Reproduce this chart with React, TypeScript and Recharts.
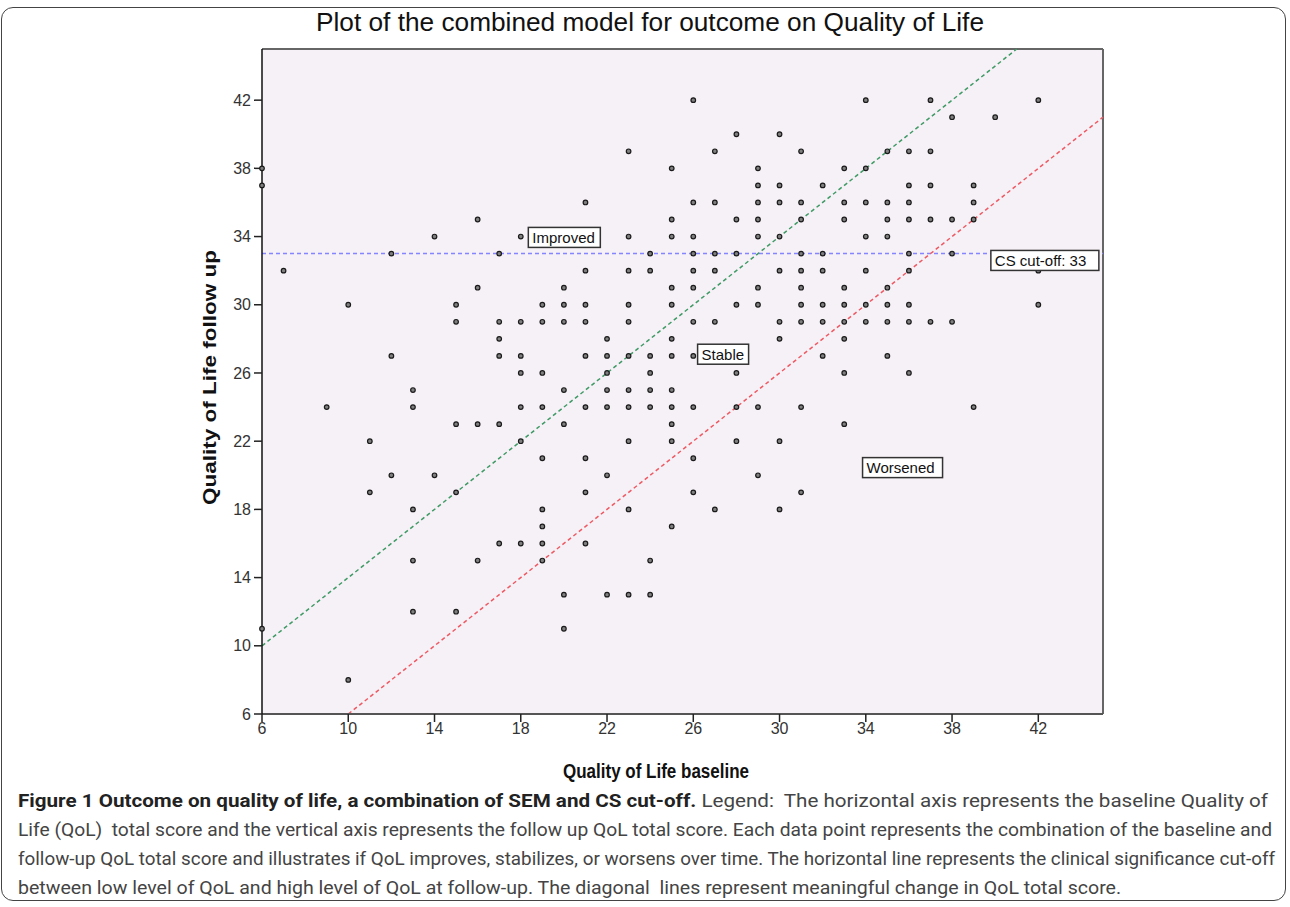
import React from 'react'
import {
  ScatterChart,
  Scatter,
  XAxis,
  YAxis,
  CartesianGrid,
  ReferenceLine,
  ReferenceDot,
} from 'recharts'

const AXIS_MIN = 6
const AXIS_MAX = 45
const xTicks = [6, 10, 14, 18, 22, 26, 30, 34, 38, 42]
const yTicks = [6, 10, 14, 18, 22, 26, 30, 34, 38, 42]
const csCutOff = 33
const semChange = 4

// follow-up QoL score, and the baseline scores seen at that follow-up level
const followUpLevels = [42, 41, 40, 39, 38, 37, 36, 35, 34, 33, 32, 31, 30, 29, 28, 27, 26, 25, 24, 23, 22, 21, 20, 19, 18, 17, 16, 15, 13, 12, 11, 8]
const baselineAtLevel = [
  [26, 34, 37, 42],
  [38, 40],
  [28, 30],
  [23, 27, 31, 35, 36, 37],
  [6, 25, 29, 33, 34],
  [6, 29, 30, 32, 36, 37, 39],
  [21, 26, 27, 29, 30, 31, 33, 34, 35, 36, 39],
  [16, 25, 28, 29, 31, 33, 35, 36, 37, 38, 39],
  [14, 18, 23, 25, 26, 29, 30, 34, 35],
  [12, 17, 24, 26, 27, 28, 31, 32, 36, 38],
  [7, 21, 23, 24, 26, 27, 30, 31, 32, 34, 36, 42],
  [16, 20, 25, 26, 29, 31, 33, 35],
  [10, 15, 19, 20, 21, 23, 25, 28, 29, 31, 32, 33, 34, 35, 36, 42],
  [15, 17, 18, 19, 20, 21, 23, 26, 27, 30, 31, 32, 33, 34, 35, 36, 37, 38],
  [17, 22, 25, 30, 33],
  [12, 17, 18, 21, 22, 23, 24, 25, 26, 32, 35],
  [18, 19, 22, 24, 28, 33, 36],
  [13, 20, 22, 23, 24, 25],
  [9, 13, 18, 19, 21, 22, 23, 24, 25, 26, 28, 29, 31, 39],
  [15, 16, 17, 20, 25, 33],
  [11, 18, 23, 25, 28, 30],
  [19, 21, 26],
  [12, 14, 22, 29],
  [11, 15, 21, 26, 31],
  [13, 19, 23, 27, 30],
  [19, 25],
  [17, 18, 19, 21],
  [13, 16, 19, 24],
  [20, 22, 23, 24],
  [13, 15],
  [6, 20],
  [10],
]

const regionNames = ['Improved', 'Stable', 'Worsened', `CS cut-off: ${csCutOff}`]
const regionX = [18.35, 26.2, 33.85, 39.8]
const regionY = [33.95, 27.1, 20.45, 32.6]
const regionBoxWidth = [72, 51, 80, 108]

const captionBold = 'Figure 1 Outcome on quality of life, a combination of SEM and CS cut-off.'
const captionLines = [
  ' Legend:  The horizontal axis represents the baseline Quality of',
  'Life (QoL)  total score and the vertical axis represents the follow up QoL total score. Each data point represents the combination of the baseline and',
  'follow-up QoL total score and illustrates if QoL improves, stabilizes, or worsens over time. The horizontal line represents the clinical significance cut-off',
  'between low level of QoL and high level of QoL at follow-up. The diagonal  lines represent meaningful change in QoL total score.',
]
// widths of the full lines; the last line keeps its natural width
const captionWidths = [1250, 1254, 1257]

const points = followUpLevels.flatMap((fu, i) =>
  baselineAtLevel[i].map((b) => ({ baseline: b, followUp: fu }))
)

const ARIAL = "'Liberation Sans', Arial, sans-serif"
const CAPTION = 'Roboto'
const CAPTION_SIZE = 19

const measure = (text: string, bold = false) => {
  const ctx = document.createElement('canvas').getContext('2d')
  if (!ctx) return text.length * 9
  ctx.font = `${bold ? 'bold ' : ''}${CAPTION_SIZE}px ${CAPTION}`
  return ctx.measureText(text).width
}

const dot = (props: any) => (
  <circle cx={props.cx} cy={props.cy} r={2.3} fill="#808080" stroke="#1a1a1a" strokeWidth={1.2} />
)

const boxLabel = (text: string, w: number) => (props: any) => {
  const { cx, cy } = props
  return (
    <g>
      <rect x={cx} y={cy - 10} width={w} height={20} fill="#fff" stroke="#333" strokeWidth={1.5} />
      <text x={cx + 4} y={cy + 5.5} fontSize={15} fontFamily={ARIAL} fill="#111">
        {text}
      </text>
    </g>
  )
}

const Caption: React.FC = () => {
  const sx = React.useMemo(() => {
    const ratios = captionWidths.map((w, i) => {
      const natural = i === 0 ? measure(captionBold, true) + measure(captionLines[0]) : measure(captionLines[i])
      return w / natural
    })
    return ratios.reduce((a, b) => a + b, 0) / ratios.length
  }, [])

  return (
    <g>
      {captionLines.map((line, i) => {
        const full = i < captionWidths.length
        return (
          <text
            key={i}
            x={full ? 18 : 0}
            y={807 + i * 29}
            transform={full ? undefined : `translate(18,0) scale(${sx},1)`}
            fontSize={CAPTION_SIZE}
            fontFamily={CAPTION}
            fill="#444"
            textLength={full ? captionWidths[i] : undefined}
            lengthAdjust={full ? 'spacingAndGlyphs' : undefined}
            style={{ whiteSpace: 'pre' }}
          >
            {i === 0 && (
              <tspan fontWeight="bold" fill="#222">
                {captionBold}
              </tspan>
            )}
            <tspan>{line}</tspan>
          </text>
        )
      })}
    </g>
  )
}

const App: React.FC = () => {
  return (
    <div style={{ position: 'absolute', left: 0, top: 0, width: 1290, height: 907, background: '#fff' }}>
      <div
        style={{
          position: 'absolute',
          left: 1,
          top: 7,
          width: 1285,
          height: 894,
          border: '1.5px solid #444',
          borderRadius: 12,
          boxSizing: 'border-box',
        }}
      />
      <div style={{ position: 'absolute', left: 0, top: 0 }}>
        <ScatterChart width={1290} height={760} margin={{ top: 49, right: 187, bottom: 16, left: 202 }}>
          <CartesianGrid horizontal={false} vertical={false} fill="#f6f1f6" />
          <XAxis
            type="number"
            dataKey="baseline"
            domain={[AXIS_MIN, AXIS_MAX]}
            ticks={xTicks}
            interval={0}
            height={30}
            tickSize={8}
            tickMargin={1}
            axisLine={{ stroke: '#555', strokeWidth: 2 }}
            tickLine={{ stroke: '#222', strokeWidth: 1.5 }}
            tick={{ fill: '#333', fontSize: 16, fontFamily: ARIAL }}
          />
          <YAxis
            type="number"
            dataKey="followUp"
            domain={[AXIS_MIN, AXIS_MAX]}
            ticks={yTicks}
            interval={0}
            width={60}
            tickSize={8}
            tickMargin={3}
            axisLine={{ stroke: '#111', strokeWidth: 1.5 }}
            tickLine={{ stroke: '#222', strokeWidth: 1.5 }}
            tick={{ fill: '#333', fontSize: 16, fontFamily: ARIAL }}
          />
          <ReferenceLine y={AXIS_MAX} stroke="#666" strokeWidth={2} />
          <ReferenceLine x={AXIS_MAX} stroke="#666" strokeWidth={2} />
          <Scatter data={points} shape={dot} isAnimationActive={false} />
          <ReferenceLine y={csCutOff} stroke="#8585ff" strokeDasharray="4 3" strokeWidth={1.5} />
          <ReferenceLine
            segment={[
              { x: AXIS_MIN, y: AXIS_MIN + semChange },
              { x: AXIS_MAX - semChange, y: AXIS_MAX },
            ]}
            stroke="#3f9a66"
            strokeDasharray="4 3"
            strokeWidth={1.5}
          />
          <ReferenceLine
            segment={[
              { x: AXIS_MIN + semChange, y: AXIS_MIN },
              { x: AXIS_MAX, y: AXIS_MAX - semChange },
            ]}
            stroke="#ee5a64"
            strokeDasharray="4 3"
            strokeWidth={1.5}
          />
          {regionNames.map((t, i) => (
            <ReferenceDot
              key={t}
              x={regionX[i]}
              y={regionY[i]}
              r={0}
              ifOverflow="visible"
              shape={boxLabel(t, regionBoxWidth[i])}
            />
          ))}
        </ScatterChart>
      </div>
      <svg
        width={1290}
        height={907}
        style={{ position: 'absolute', left: 0, top: 0, pointerEvents: 'none' }}
      >
        <text x={316} y={31} fontSize={26} fontFamily={ARIAL} fill="#111" textLength={668} lengthAdjust="spacingAndGlyphs">
          Plot of the combined model for outcome on Quality of Life
        </text>
        <text x={563} y={778} fontSize={20} fontWeight="bold" fontFamily={ARIAL} fill="#111" textLength={186} lengthAdjust="spacingAndGlyphs">
          Quality of Life baseline
        </text>
        <text
          transform="translate(216,505) rotate(-90)"
          x={0}
          y={0}
          fontSize={19}
          fontWeight="bold"
          fontFamily={ARIAL}
          fill="#111"
          textLength={255}
          lengthAdjust="spacingAndGlyphs"
        >
          Quality of Life follow up
        </text>
        <Caption />
      </svg>
    </div>
  )
}

export default App
